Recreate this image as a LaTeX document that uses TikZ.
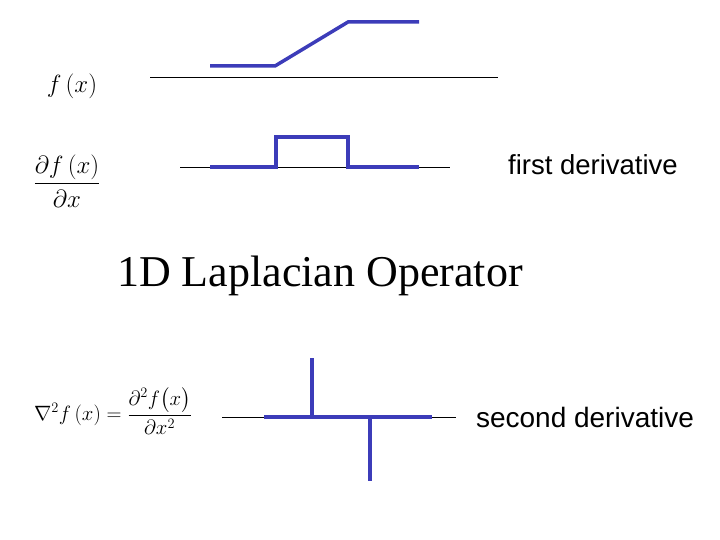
\documentclass[tikz,border=0pt]{standalone}
\usepackage{amsmath}
\usepackage{fontspec}
\newfontfamily\myarial{Liberation Sans}
\newfontfamily\mytimes{Liberation Serif}
\definecolor{sigblue}{RGB}{60,60,185}
\begin{document}
\begin{tikzpicture}[x=1pt,y=-1pt,
  axis/.style={black,line width=0.8pt},
  sig/.style={sigblue,line width=3.5pt,line join=miter},
  lbl/.style={font=\myarial\fontsize{27.5}{30}\selectfont},
  lbl2/.style={font=\myarial\fontsize{28}{30}\selectfont}]
\useasboundingbox (0,0) rectangle (720,540);
% f(x)
\node (f) at (72,86) {\fontsize{33}{36}\selectfont $f\,(x)$};
\coordinate (a1) at (150,77); \coordinate (a2) at (498,77);
\draw[axis] (a1) -- (a2);
\draw[sig] (210,66) -- (275,66) -- (348,22) -- (419,22);
% first derivative
\node (df) at (67,181) {\fontsize{28}{30}\selectfont $\dfrac{\partial f\,(x)}{\partial x}$};
\coordinate (b1) at (180,167); \coordinate (b2) at (450,167);
\draw[axis] (b1) -- (b2);
\draw[sig] (210,167) -- (276,167) -- (276,137) -- (348,137) -- (348,167) -- (419,167);
\node[lbl] (fd) at (593,165) {first derivative};
% title
\node (t) at (320,276) {\mytimes\fontsize{44}{48}\selectfont 1D Laplacian Operator};
% second derivative
\node (lap) at (113,411) {\fontsize{21}{23}\selectfont $\nabla^2 f\,(x) = \dfrac{\partial^2 f\bigl(x\bigr)}{\partial x^2}$};
\coordinate (c1) at (222,417); \coordinate (c2) at (456,417);
\draw[axis] (c1) -- (c2);
\draw[sig] (264,417) -- (432,417);
\draw[sig] (312,358) -- (312,417);
\draw[sig] (370,417) -- (370,481);
\node[lbl2] (sd) at (585,417) {second derivative};
\end{tikzpicture}
\end{document}
